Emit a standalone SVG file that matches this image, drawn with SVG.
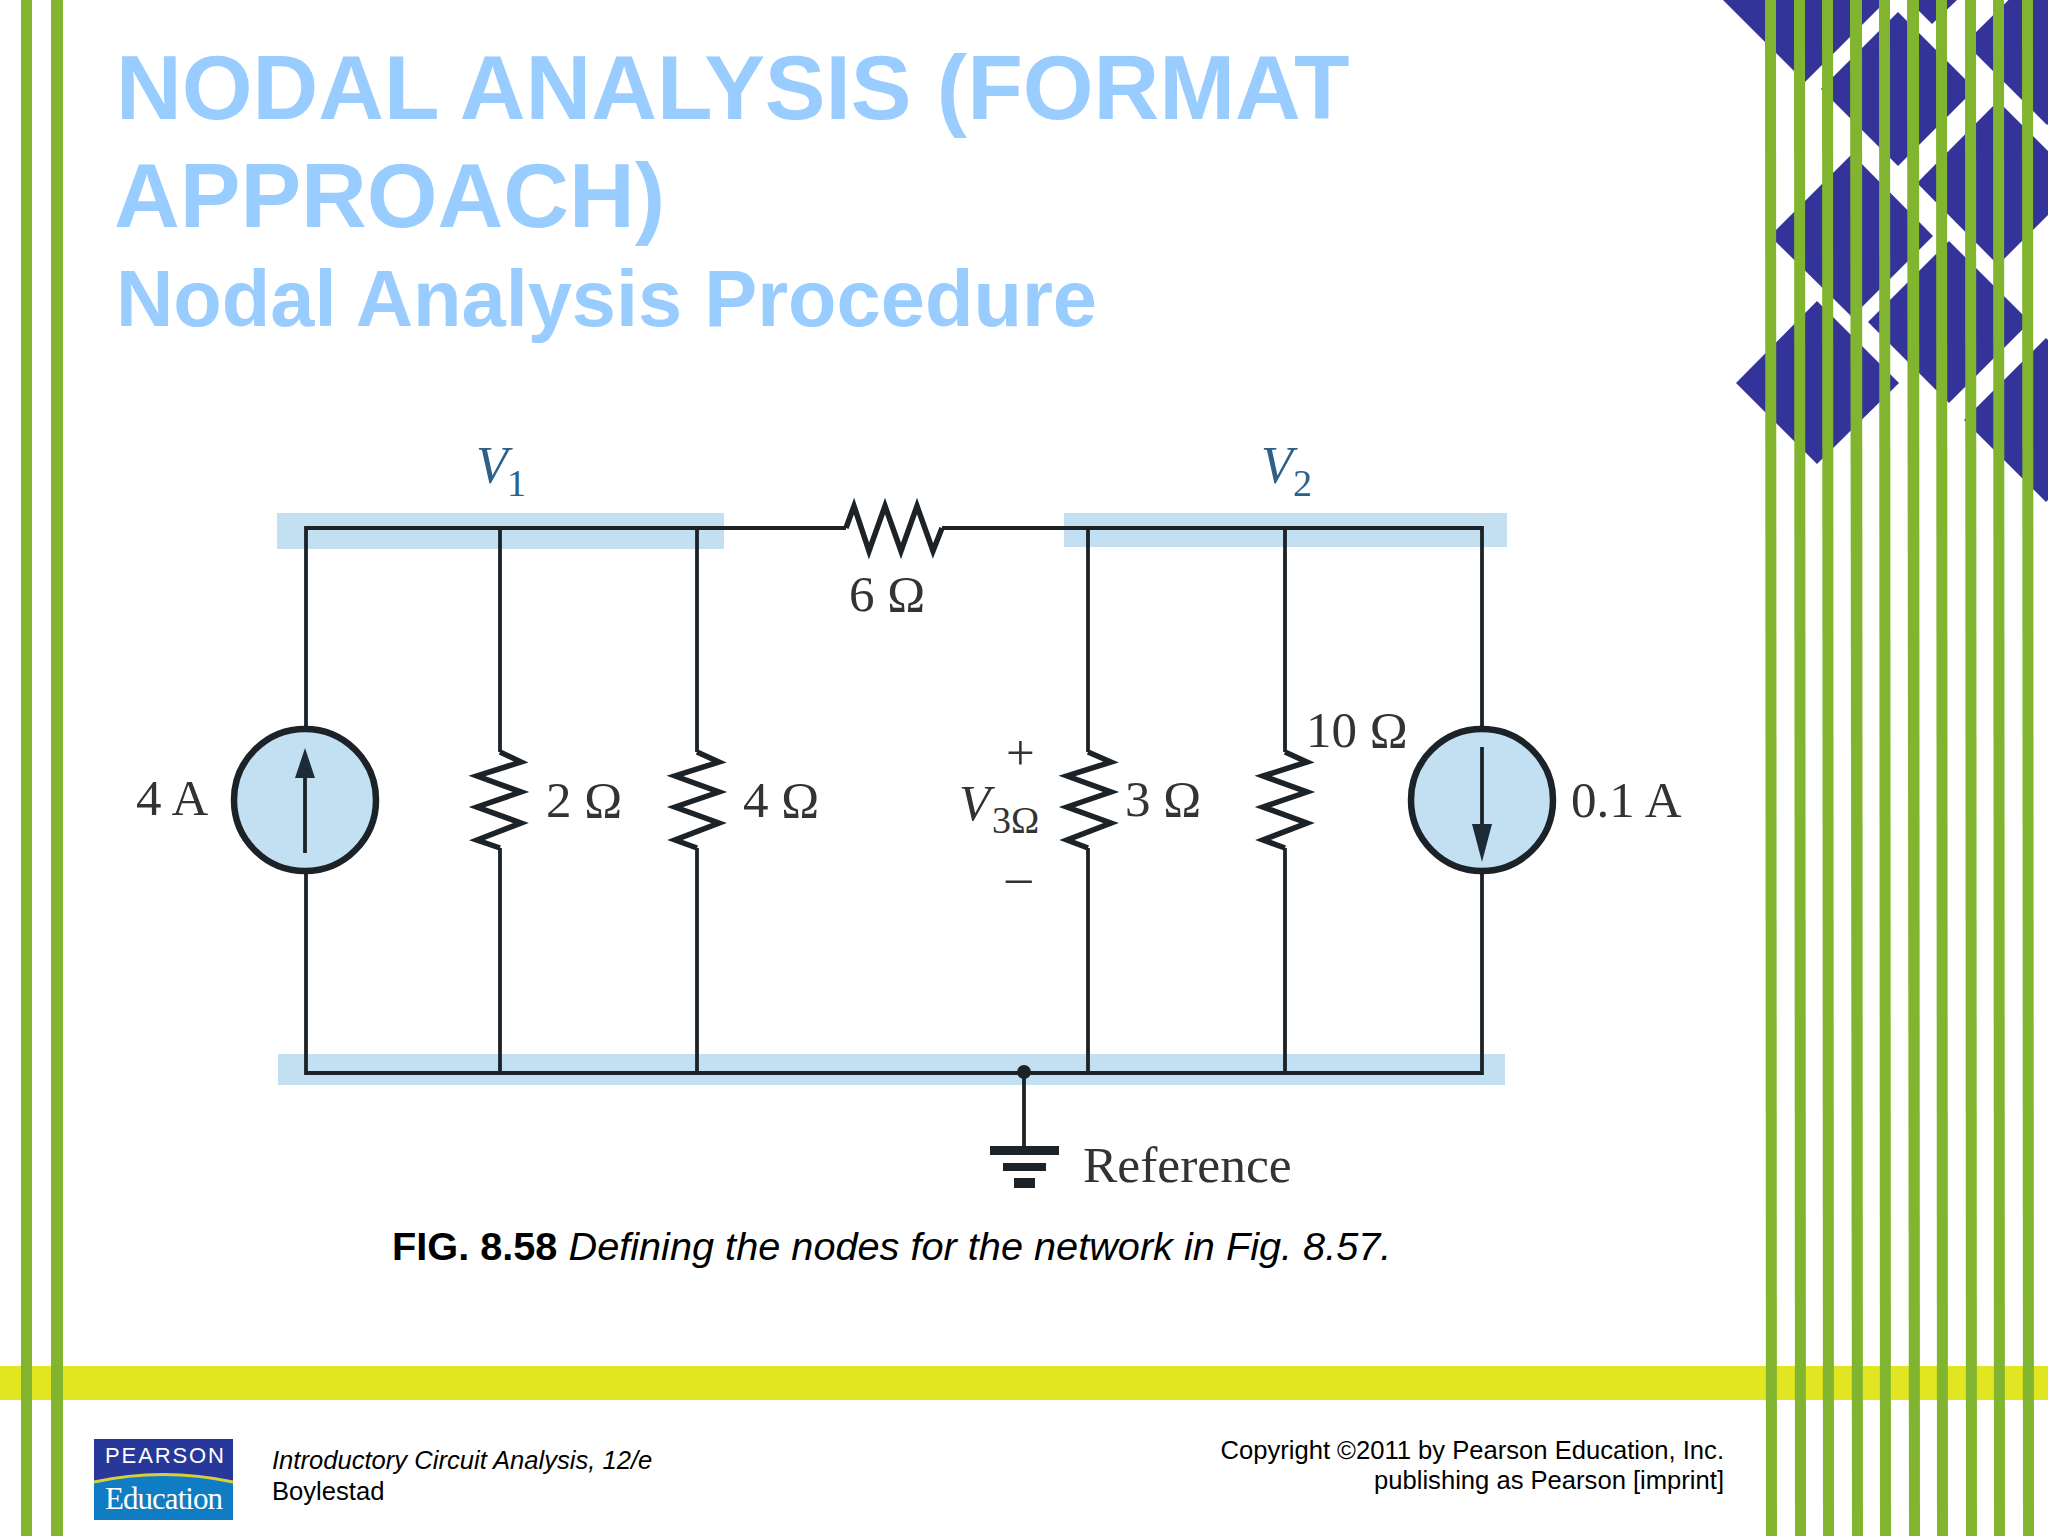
<svg xmlns="http://www.w3.org/2000/svg" width="2048" height="1536" viewBox="0 0 2048 1536">
<style>
.g{fill:#82b52f}
.d{fill:#343399}
.band{fill:#c2e0f2}
.w{fill:none;stroke:#1c2328;stroke-width:3.8}
.z{fill:none;stroke:#1c2328;stroke-width:5.5;stroke-linejoin:miter}
.src{fill:#c2e0f2;stroke:#1c2328;stroke-width:6.5}
.ar{fill:#1c2b36}
.t{font-family:"Liberation Serif",serif;font-size:51px;fill:#333}
.i{font-style:italic}
.v{font-family:"Liberation Serif",serif;font-style:italic;font-size:52px;fill:#2f6088}
.s{font-family:"Liberation Serif",serif;font-size:38px;fill:#2f6088}
.h{font-family:"Liberation Sans",Arial,sans-serif;font-weight:700;fill:#99ccff}
.c{font-family:"Liberation Sans",Arial,sans-serif;fill:#000}
</style>
<rect width="2048" height="1536" fill="#fff"/>
<g id="diamonds">
<polygon class="d" points="1723,0 1805,82 1887,0"/>
<polygon class="d" points="1908,0 1932,24 1957,0"/>
<polygon class="d" points="1898,12 1975,89 1898,166 1821,89"/>
<polygon class="d" points="1852,154 1933,236 1852,317 1770,236"/>
<polygon class="d" points="1998,101 2080,183 1998,265 1917,183"/>
<polygon class="d" points="1949,241 2030,322 1949,403 1868,322"/>
<polygon class="d" points="1817,301 1899,383 1817,464 1736,383"/>
<polygon class="d" points="2046,338 2128,420 2046,502 1964,420"/>
<polygon class="d" points="2047,-38 2128,43 2047,125 1965,43"/>
</g>
<rect id="yellow-bar" x="0" y="1366" width="2048" height="34" fill="#e2e622"/>
<g id="stripes">
<rect class="g" x="21" y="0" width="11" height="1536"/>
<rect class="g" x="51" y="0" width="12" height="1536"/>
<polygon class="g" points="1765,0 1776,0 1777,1536 1766,1536"/>
<polygon class="g" points="1794,0 1805,0 1806,1536 1795,1536"/>
<polygon class="g" points="1822,0 1833,0 1834,1536 1823,1536"/>
<polygon class="g" points="1850,0 1862,0 1863,1536 1852,1536"/>
<polygon class="g" points="1879,0 1890,0 1891,1536 1880,1536"/>
<polygon class="g" points="1907,0 1919,0 1920,1536 1909,1536"/>
<polygon class="g" points="1936,0 1947,0 1948,1536 1937,1536"/>
<polygon class="g" points="1965,0 1976,0 1977,1536 1966,1536"/>
<polygon class="g" points="1993,0 2004,0 2005,1536 1994,1536"/>
<polygon class="g" points="2022,0 2033,0 2034,1536 2023,1536"/>
</g>
<g id="title">
<text class="h" x="116" y="119" font-size="91">NODAL ANALYSIS (FORMAT</text>
<text class="h" x="114" y="227" font-size="91">APPROACH)</text>
<text class="h" x="116" y="326" font-size="79.4">Nodal Analysis Procedure</text>
</g>
<g id="bands">
<rect class="band" x="277" y="513" width="447" height="36"/>
<rect class="band" x="1064" y="513" width="443" height="34"/>
<rect class="band" x="278" y="1054" width="1227" height="31"/>
</g>
<g id="connectors">
<path class="w" d="M846,528 H306 V728 M306,872 V1073 H1482 V872 M500,528 V752 M500,848 V1073 M697,528 V752 M697,848 V1073"/>
<path class="w" d="M942,528 H1482 V728 M1088,528 V752 M1088,848 V1073 M1285,528 V752 M1285,848 V1073 M1024,1073 V1147"/>
</g>
<g id="source-4A">
<circle class="src" cx="305" cy="800" r="71"/>
<path class="w" d="M305,853 V775"/>
<polygon class="ar" points="305,748 315,778 295,778"/>
<text class="t" x="136" y="815">4 A</text>
</g>
<g id="source-01A">
<circle class="src" cx="1482" cy="800" r="71"/>
<path class="w" d="M1482,747 V826"/>
<polygon class="ar" points="1482,862 1492,824 1472,824"/>
<text class="t" x="1571" y="817">0.1 A</text>
</g>
<g id="r-6">
<polyline class="z" points="846,528 854,506 869,551 885,506 901,551 917,506 933,551 942,528"/>
<text class="t" x="849" y="611">6 Ω</text>
</g>
<g id="r-2">
<polyline class="z" points="500,752 521,762 477,776 521,792 477,807 521,823 477,840 500,848"/>
<text class="t" x="546" y="817">2 Ω</text>
</g>
<g id="r-4">
<polyline class="z" points="697,752 719,762 675,776 719,792 675,807 719,823 675,840 697,848"/>
<text class="t" x="743" y="817">4 Ω</text>
</g>
<g id="r-3">
<polyline class="z" points="1088,752 1111,762 1067,776 1111,792 1067,807 1111,823 1067,840 1088,848"/>
<text class="t" x="1125" y="816">3 Ω</text>
</g>
<g id="r-10">
<polyline class="z" points="1285,752 1307,762 1263,776 1307,792 1263,807 1307,823 1263,840 1285,848"/>
<text class="t" x="1306" y="747">10 Ω</text>
</g>
<g id="label-v1"><text class="v" x="476" y="483">V</text><text class="s" x="507" y="496">1</text></g>
<g id="label-v2"><text class="v" x="1261" y="483">V</text><text class="s" x="1293" y="496">2</text></g>
<g id="label-v3">
<text class="t" x="1006" y="770">+</text>
<text class="t i" x="959" y="820">V</text>
<text class="t" x="992" y="833" style="font-size:38px">3Ω</text>
<text class="t" x="1006" y="894">–</text>
</g>
<g id="ground">
<circle cx="1024" cy="1072" r="7" fill="#1c2328"/>
<rect x="990" y="1146" width="69" height="9" fill="#1c2328"/>
<rect x="1003" y="1163" width="43" height="8" fill="#1c2328"/>
<rect x="1014" y="1178" width="21" height="10" fill="#1c2328"/>
<text class="t" x="1083" y="1182" style="font-size:51.5px">Reference</text>
</g>
<text id="caption" class="c" x="392" y="1260" font-size="39.7"><tspan font-weight="700">FIG. 8.58 </tspan><tspan font-style="italic">Defining the nodes for the network in Fig. 8.57.</tspan></text>
<g id="logo">
<rect x="94" y="1439" width="139" height="81" fill="#0f7cc4"/>
<path d="M94,1439 H233 V1481 Q163,1466 94,1481 Z" fill="#28389a"/>
<path d="M94,1482 Q163,1467 233,1482" fill="none" stroke="#d8cf3a" stroke-width="3"/>
<text x="105" y="1463" font-family="Liberation Sans,sans-serif" font-size="22" fill="#fff" textLength="119">PEARSON</text>
<text x="105" y="1509" font-family="Liberation Serif,serif" font-size="31" fill="#fff" textLength="118">Education</text>
</g>
<g id="footer">
<text class="c" x="272" y="1469" font-size="25.6" font-style="italic">Introductory Circuit Analysis, 12/e</text>
<text class="c" x="272" y="1500" font-size="25.6">Boylestad</text>
<text class="c" x="1724" y="1459" font-size="25.6" text-anchor="end">Copyright ©2011 by Pearson Education, Inc.</text>
<text class="c" x="1724" y="1489" font-size="25.6" text-anchor="end">publishing as Pearson [imprint]</text>
</g>
</svg>
